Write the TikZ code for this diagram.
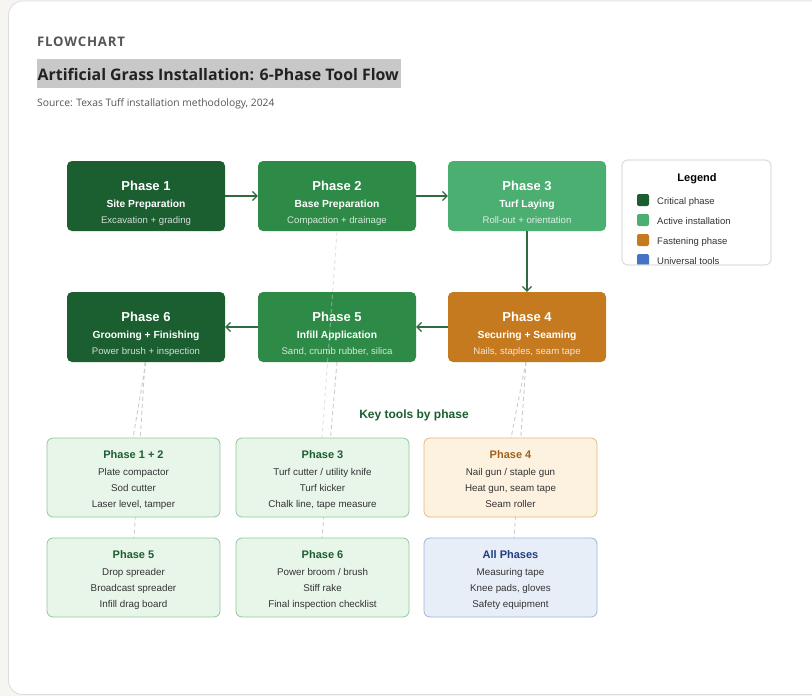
\documentclass[tikz,border=0pt]{standalone}
\usepackage{fontspec}
\setmainfont{Liberation Sans}
\newfontfamily\hdr{Open Sans}
\newfontfamily\hdrsp[LetterSpace=6]{Open Sans}
\usetikzlibrary{arrows.meta}
\definecolor{pagebg}{HTML}{F6F5F2}
\definecolor{cardline}{HTML}{DDDDDD}
\definecolor{hgray}{HTML}{555555}
\definecolor{hl}{HTML}{C8C8C8}
\definecolor{ttl}{HTML}{222222}
\definecolor{cdark}{HTML}{1B5E30}
\definecolor{cmid}{HTML}{2E8B47}
\definecolor{clight}{HTML}{4CAF72}
\definecolor{corange}{HTML}{C67A1F}
\definecolor{cblue}{HTML}{4472C4}
\definecolor{arrowc}{HTML}{2F6B40}
\definecolor{dashc}{HTML}{CCCCCC}
\definecolor{gfill}{HTML}{E8F5E9}
\definecolor{gline}{HTML}{90C89C}
\definecolor{ofill}{HTML}{FDF2E0}
\definecolor{oline}{HTML}{E9B87A}
\definecolor{bfill}{HTML}{E8EEF8}
\definecolor{bline}{HTML}{9FB3DB}
\definecolor{gtitle}{HTML}{1B5E30}
\definecolor{otitle}{HTML}{A4601A}
\definecolor{btitle}{HTML}{1F3F7F}
\definecolor{itemc}{HTML}{333333}
\newcommand\phasebox[7]{%
  \node[phase, fill=#4] (#1) at (#2,#3) {};
  \path (#1.center) ++(0,-5.5) node[ptitle, anchor=base] (#1t) {#5};
  \path (#1.center) ++(0,11.5) node[psub, anchor=base] (#1s) {#6};
  \path (#1.center) ++(0,27.3) node[pdet, anchor=base, text=white!80!#4] (#1d) {#7};
}
\newcommand\toolbox[9]{%
  \node[tool, fill=#4, draw=#5] (#1) at (#2,#3) {};
  \path (#1.center) ++(0,-19.5) node[ttitle, anchor=base, text=#6] (#1t) {#7};
  \path (#1.center) ++(0,-2) node[titem, anchor=base] (#1a) {#8};
  \path (#1.center) ++(0,14) node[titem, anchor=base] (#1b) {#9};
}
\begin{document}
\begin{tikzpicture}[x=1pt,y=-1pt,
  phase/.style={rounded corners=5pt, minimum width=158pt, minimum height=70pt, inner sep=0, draw=none},
  ptitle/.style={font=\bfseries\fontsize{13}{15}\selectfont, text=white, inner sep=0},
  psub/.style={font=\bfseries\fontsize{10.3}{12}\selectfont, text=white, inner sep=0},
  pdet/.style={font=\fontsize{9.6}{11}\selectfont, inner sep=0},
  flow/.style={draw=arrowc, line width=1.2pt, -{Straight Barb[length=4.5pt,width=9pt]}},
  tool/.style={rounded corners=6pt, minimum width=173pt, minimum height=79pt, inner sep=0, line width=0.8pt},
  ttitle/.style={font=\bfseries\fontsize{11}{13}\selectfont, inner sep=0},
  titem/.style={font=\fontsize{9.8}{12}\selectfont, text=itemc, inner sep=0},
  dashl/.style={draw=dashc, line width=0.9pt, dash pattern=on 4pt off 3pt},
  legtxt/.style={font=\fontsize{9.5}{11}\selectfont, text=itemc, inner sep=0, anchor=base west},
  swatch/.style={rounded corners=2pt, minimum width=12pt, minimum height=12pt, inner sep=0}
]
\useasboundingbox (0,0) rectangle (812,696);
\fill[pagebg] (0,0) rectangle (812,696);
\draw[cardline, fill=white, rounded corners=14pt, line width=0.8pt] (8.5,1) rectangle (840,694.5);

% header
\node[anchor=base west, inner sep=0, font=\hdrsp\bfseries\fontsize{13.2}{16}\selectfont, text=hgray] (kick) at (37,46) {FLOWCHART};
\fill[hl] (37,59) rectangle (401,88);
\node[anchor=base west, inner sep=0, font=\hdr\bfseries\fontsize{15.9}{19}\selectfont, text=ttl] (title) at (37.5,80) {Artificial Grass Installation: 6-Phase Tool Flow};
\node[anchor=base west, inner sep=0, font=\hdr\fontsize{10.3}{12}\selectfont, text=hgray] (src) at (37,106) {Source: Texas Tuff installation methodology, 2024};

% dashed tool links (behind)
\coordinate (a1) at (146,362); \coordinate (a2) at (133,438);
\coordinate (b1) at (145,362); \coordinate (b2) at (134,538);
\coordinate (c1) at (337,232); \coordinate (c2) at (322,438);
\coordinate (d1) at (337,362); \coordinate (d2) at (322,538);
\coordinate (e1) at (526,362); \coordinate (e2) at (511,438);
\coordinate (f1) at (526,362); \coordinate (f2) at (514,538);
\draw[dashl] (a1) -- (a2);
\draw[dashl] (b1) -- (b2);
\draw[dashl] (d1) -- (d2);
\draw[dashl] (e1) -- (e2);
\draw[dashl] (f1) -- (f2);

% phases
\phasebox{p1}{146}{196}{cdark}{Phase 1}{Site Preparation}{Excavation + grading}
\phasebox{p2}{337}{196}{cmid}{Phase 2}{Base Preparation}{Compaction + drainage}
\phasebox{p3}{527}{196}{clight}{Phase 3}{Turf Laying}{Roll-out + orientation}
\phasebox{p6}{146}{327}{cdark}{Phase 6}{Grooming + Finishing}{Power brush + inspection}
\phasebox{p5}{337}{327}{cmid}{Phase 5}{Infill Application}{Sand, crumb rubber, silica}
\phasebox{p4}{527}{327}{corange}{Phase 4}{Securing + Seaming}{Nails, staples, seam tape}

% this link shows faintly across Phase 5
\draw[dashl, draw opacity=0.55] (c1) -- (c2);

\draw[flow] (p1.east) -- (p2.west);
\draw[flow] (p2.east) -- (p3.west);
\draw[flow] (p3.south) -- (p4.north);
\draw[flow] (p4.west) -- (p5.east);
\draw[flow] (p5.west) -- (p6.east);

% legend
\node[draw=cardline, fill=white, rounded corners=6pt, line width=0.8pt, minimum width=149pt, minimum height=105pt, inner sep=0] (leg) at (696.5,212.5) {};
\node[font=\bfseries\fontsize{11}{13}\selectfont, inner sep=0, anchor=base] (legt) at (697,181) {Legend};
\begin{scope}
\clip[rounded corners=6pt] (622.4,160.4) rectangle (770.6,264.6);
\node[swatch, fill=cdark] (s1) at (643,200) {};
\node[swatch, fill=clight] (s2) at (643,220) {};
\node[swatch, fill=corange] (s3) at (643,240) {};
\node[swatch, fill=cblue] (s4) at (643,260) {};
\node[legtxt] (l1) at (657,204.5) {Critical phase};
\node[legtxt] (l2) at (657,224.5) {Active installation};
\node[legtxt] (l3) at (657,244.5) {Fastening phase};
\node[legtxt] (l4) at (657,264.5) {Universal tools};
\end{scope}
\draw[cardline, rounded corners=6pt, line width=0.8pt] (622,160) rectangle (771,265);

% key tools
\node[font=\bfseries\fontsize{12}{14}\selectfont, text=cdark, inner sep=0, anchor=base] (key) at (414,418.5) {Key tools by phase};

\toolbox{t12}{133.5}{477.5}{gfill}{gline}{gtitle}{Phase 1 + 2}{Plate compactor}{Sod cutter}
\path (t12.center) ++(0,30) node[titem, anchor=base] (t12c) {Laser level, tamper};
\toolbox{t3}{322.5}{477.5}{gfill}{gline}{gtitle}{Phase 3}{Turf cutter / utility knife}{Turf kicker}
\path (t3.center) ++(0,30) node[titem, anchor=base] (t3c) {Chalk line, tape measure};
\toolbox{t4}{510.5}{477.5}{ofill}{oline}{otitle}{Phase 4}{Nail gun / staple gun}{Heat gun, seam tape}
\path (t4.center) ++(0,30) node[titem, anchor=base] (t4c) {Seam roller};
\toolbox{t5}{133.5}{577.5}{gfill}{gline}{gtitle}{Phase 5}{Drop spreader}{Broadcast spreader}
\path (t5.center) ++(0,30) node[titem, anchor=base] (t5c) {Infill drag board};
\toolbox{t6}{322.5}{577.5}{gfill}{gline}{gtitle}{Phase 6}{Power broom / brush}{Stiff rake}
\path (t6.center) ++(0,30) node[titem, anchor=base] (t6c) {Final inspection checklist};
\toolbox{ta}{510.5}{577.5}{bfill}{bline}{btitle}{All Phases}{Measuring tape}{Knee pads, gloves}
\path (ta.center) ++(0,30) node[titem, anchor=base] (tac) {Safety equipment};
\end{tikzpicture}
\end{document}
